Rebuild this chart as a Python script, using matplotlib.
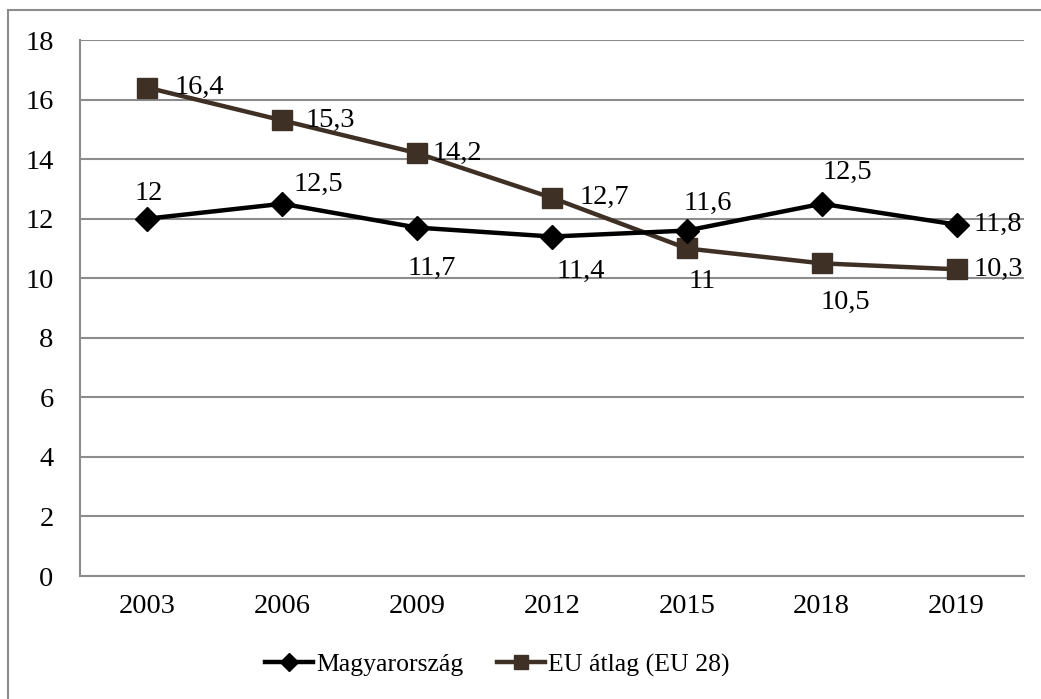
import matplotlib
matplotlib.use("Agg")
import matplotlib.pyplot as plt
from matplotlib.patches import Rectangle

years = ["2003", "2006", "2009", "2012", "2015", "2018", "2019"]
hu_values = [12, 12.5, 11.7, 11.4, 11.6, 12.5, 11.8]
eu_values = [16.4, 15.3, 14.2, 12.7, 11, 10.5, 10.3]
hu_name = "Magyarország"
eu_name = "EU átlag (EU 28)"

plt.rcParams['font.family'] = ['Liberation Serif', 'DejaVu Serif']
FS = 20.5

fig = plt.figure(figsize=(10.41, 6.99), dpi=100)
ax = fig.add_axes([80/1041, 1-576/699, (1024-80)/1041, (576-40)/699])

x = list(range(len(years)))
hu_color = "#000000"
eu_color = "#3f3026"
ax.plot(x, hu_values, color=hu_color, lw=3.2, marker='D', markersize=12, label=hu_name, zorder=4)
ax.plot(x, eu_values, color=eu_color, lw=3.2, marker='s', markersize=14, label=eu_name, zorder=3)

def fmt(v):
    s = ("%g" % v).replace(".", ",")
    return s

# label offsets in pixels (dx, dy, ha)
hu_off = [(1, 25, 'center'), (11, 19, 'left'), (15, -41, 'center'), (29, -35, 'center'),
          (21, 27, 'center'), (26, 31, 'center'), (17, 0, 'left')]
eu_off = [(27, 0, 'left'), (23, 0, 'left'), (15, 0, 'left'), (28, 0, 'left'),
          (15, -33, 'center'), (24, -39, 'center'), (17, 0, 'left')]
for xi, v, (dx, dy, ha) in zip(x, hu_values, hu_off):
    ax.annotate(fmt(v), (xi, v), xytext=(dx, dy), textcoords='offset pixels',
                ha=ha, va='center', fontsize=FS, color='#000000', zorder=5)
for xi, v, (dx, dy, ha) in zip(x, eu_values, eu_off):
    ax.annotate(fmt(v), (xi, v), xytext=(dx, dy), textcoords='offset pixels',
                ha=ha, va='center', fontsize=FS, color='#000000', zorder=5)

ax.set_xlim(-0.5, len(years) - 0.5)
ax.set_ylim(0, 18)
ax.set_yticks(range(0, 19, 2))
ax.set_xticks(x)
ax.set_xticklabels(years)
ax.tick_params(axis='both', length=0, labelsize=FS)
ax.tick_params(axis='y', pad=19)
ax.tick_params(axis='x', pad=13)
ax.yaxis.grid(True, color='#8c8c8c', lw=1.5)
ax.set_axisbelow(True)
for s in ['top', 'right']:
    ax.spines[s].set_visible(False)
for s in ['left', 'bottom']:
    ax.spines[s].set_color('#8c8c8c')
    ax.spines[s].set_linewidth(1.5)

leg = fig.legend(loc='center', bbox_to_anchor=(497/1041, 1-665/699), ncol=2, frameon=False,
                 fontsize=18.5, handlelength=1.9, handletextpad=0.1, columnspacing=1.3,
                 markerscale=0.75)

fig.patches.append(Rectangle((8/1041, -0.1), 1.2, 1.1 - 10/699, transform=fig.transFigure,
                             fill=False, edgecolor='#8c8c8c', lw=1.5, zorder=0))

fig.savefig("out.png", dpi=100, facecolor='white')
